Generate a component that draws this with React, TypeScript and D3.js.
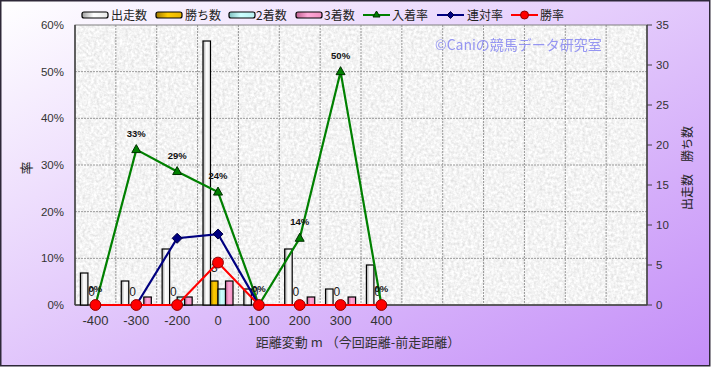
import React, { useEffect } from "react";
import * as d3 from "d3";

const categories = ["-400", "-300", "-200", "0", "100", "200", "300", "400"];
const extraSlots = ["", "", "", "", "", ""];
const runners = [4, 3, 7, 33, 2, 7, 2, 5];
const wins = [0, 0, 0, 3, 0, 0, 0, 0];
const seconds = [0, 0, 1, 2, 0, 0, 0, 0];
const thirds = [0, 1, 1, 3, 0, 1, 1, 0];
const placeRate = [0, 0.333, 0.286, 0.242, 0, 0.143, 0.5, 0];
const quinellaRate = [0, 0, 0.143, 0.152, 0, 0, 0, 0];
const winRate = [0, 0, 0, 0.091, 0, 0, 0, 0];
const leftTicks = [0, 0.1, 0.2, 0.3, 0.4, 0.5, 0.6];
const rightTicks = [0, 5, 10, 15, 20, 25, 30, 35];

const W = 711;
const H = 367;
const M = { left: 75, right: 647, top: 25, bottom: 305 };
const jp = "'Noto Sans CJK JP', 'Noto Sans', sans-serif";
const num = "'Liberation Sans', Arial, sans-serif";

export default function App() {
  useEffect(() => {
    document.body.style.margin = "0";
  }, []);
  const slots = [...categories, ...extraSlots];
  const x = d3.scaleBand<number>().domain(d3.range(slots.length)).range([M.left, M.right]).padding(0);
  const barSeries = [
    { key: "出走数", values: runners, fill: "url(#gRun)" },
    { key: "勝ち数", values: wins, fill: "url(#gWin)" },
    { key: "2着数", values: seconds, fill: "url(#gSec)" },
    { key: "3着数", values: thirds, fill: "url(#gThi)" },
  ];
  const xi = d3.scaleBand<number>().domain(d3.range(barSeries.length)).range([0, x.bandwidth()]).paddingInner(0).paddingOuter(0.72);
  const yL = d3.scaleLinear().domain([0, 0.6]).range([M.bottom, M.top]);
  const yR = d3.scaleLinear().domain([0, 35]).range([M.bottom, M.top]);
  const cx = (i: number) => (x(i) as number) + x.bandwidth() / 2;
  const line = d3.line<number>().x((_, i) => cx(i)).y((d) => yL(d));

  const lineSeries = [
    { key: "入着率", values: placeRate, color: "#008000", marker: "tri", mfill: "#008000", mstroke: "#003000" },
    { key: "連対率", values: quinellaRate, color: "#000080", marker: "dia", mfill: "#000080", mstroke: "#000040" },
    { key: "勝率", values: winRate, color: "#ff0000", marker: "cir", mfill: "#ff0000", mstroke: "#900000" },
  ];

  const marker = (type: string, px: number, py: number, fill: string, stroke: string, k: string) => {
    if (type === "tri")
      return <path key={k} d={`M${px},${py - 5}L${px + 4.5},${py + 3}L${px - 4.5},${py + 3}Z`} fill={fill} stroke={stroke} strokeWidth={1} />;
    if (type === "dia")
      return <path key={k} d={`M${px},${py - 5}L${px + 5},${py}L${px},${py + 5}L${px - 5},${py}Z`} fill={fill} stroke={stroke} strokeWidth={1} />;
    return <circle key={k} cx={px} cy={py} r={5.4} fill={fill} stroke={stroke} strokeWidth={1} />;
  };

  const legendBars = [
    { x: 82, tx: 111 },
    { x: 156, tx: 185 },
    { x: 229, tx: 256 },
    { x: 296, tx: 324 },
  ];
  const legendLines = [
    { x: 363, tx: 392 },
    { x: 437, tx: 467 },
    { x: 511, tx: 540 },
  ];

  return (
    <svg width={W} height={H} style={{ display: "block" }}>
      <defs>
        <linearGradient id="bg" x1="0" y1="0" x2="1" y2="1">
          <stop offset="0" stopColor="#ffffff" />
          <stop offset="1" stopColor="#c48ef8" />
        </linearGradient>
        <linearGradient id="gRun" x1="0" y1="0" x2="1" y2="0">
          <stop offset="0" stopColor="#a0a0a0" />
          <stop offset="0.45" stopColor="#ffffff" />
          <stop offset="1" stopColor="#e8e8e8" />
        </linearGradient>
        <linearGradient id="gWin" x1="0" y1="0" x2="1" y2="0">
          <stop offset="0" stopColor="#a07800" />
          <stop offset="0.45" stopColor="#ffcc00" />
          <stop offset="1" stopColor="#e8b400" />
        </linearGradient>
        <linearGradient id="gSec" x1="0" y1="0" x2="1" y2="0">
          <stop offset="0" stopColor="#80c0c0" />
          <stop offset="0.45" stopColor="#ccffff" />
          <stop offset="1" stopColor="#b8f0f0" />
        </linearGradient>
        <linearGradient id="gThi" x1="0" y1="0" x2="1" y2="0">
          <stop offset="0" stopColor="#c06090" />
          <stop offset="0.45" stopColor="#ffa8d8" />
          <stop offset="1" stopColor="#f090c0" />
        </linearGradient>
        <filter id="granite" x="0" y="0" width="100%" height="100%">
          <feTurbulence type="fractalNoise" baseFrequency="0.35" numOctaves="4" seed="3" result="n" />
          <feColorMatrix in="n" type="matrix" values="0.42 0 0 0 0.69  0.42 0 0 0 0.69  0.42 0 0 0 0.69  0 0 0 0 1" />
        </filter>
      </defs>
      <rect x={0.75} y={0.75} width={W - 2} height={H - 2} fill="url(#bg)" stroke="#2e2838" strokeWidth={1.5} />

      {/* plot area */}
      <rect x={M.left} y={M.top} width={M.right - M.left} height={M.bottom - M.top} filter="url(#granite)" />
      {leftTicks.slice(1, -1).map((t) => (
        <line key={"hg" + t} x1={M.left} x2={M.right} y1={yL(t)} y2={yL(t)} stroke="#999" strokeDasharray="2,1" strokeWidth={1} />
      ))}
      {slots.slice(1).map((_, i) => (
        <line key={"vg" + i} x1={x(i + 1) as number} x2={x(i + 1) as number} y1={M.top} y2={M.bottom} stroke="#999" strokeDasharray="2,1" strokeWidth={1} />
      ))}
      <rect x={M.left} y={M.top} width={M.right - M.left} height={M.bottom - M.top} fill="none" stroke="#808080" strokeWidth={1} />
      <line x1={M.left} x2={M.left} y1={M.top} y2={M.bottom} stroke="#404040" strokeWidth={1.5} />
      <line x1={M.right} x2={M.right} y1={M.top} y2={M.bottom} stroke="#404040" strokeWidth={1.5} />
      <line x1={M.left} x2={M.right} y1={M.bottom} y2={M.bottom} stroke="#404040" strokeWidth={1.5} />

      {/* watermark */}
      <text x={435} y={50} fontSize={14} fontFamily={jp} fill="#8c8cf2" opacity={0.9}>©Caniの競馬データ研究室</text>

      {/* bars */}
      {barSeries.map((s, si) =>
        s.values.map((v, i) =>
          v > 0 ? (
            <rect key={s.key + i} x={(x(i) as number) + (xi(si) as number)} y={yR(v)} width={xi.bandwidth()} height={M.bottom - yR(v)} fill={s.fill} stroke="#000" strokeWidth={1.2} />
          ) : null
        )
      )}
      {wins.map((v, i) => (
        <text key={"wl" + i} x={(x(i) as number) + (xi(1) as number) + xi.bandwidth() / 2} y={yR(v) - 9} fontSize={12} fontFamily={num} fill="#222" textAnchor="middle">{v}</text>
      ))}

      {/* lines */}
      {lineSeries.map((s) => (
        <g key={s.key}>
          <path d={line(s.values) as string} fill="none" stroke={s.color} strokeWidth={2.2} />
          {s.values.map((v, i) => marker(s.marker, cx(i), yL(v), s.mfill, s.mstroke, s.key + i))}
        </g>
      ))}
      {placeRate.map((v, i) => (
        <text key={"pl" + i} x={cx(i)} y={yL(v) - 13} fontSize={9.5} fontWeight="bold" fontFamily={num} fill="#111" textAnchor="middle">{Math.round(v * 100) + "%"}</text>
      ))}

      {/* axes labels */}
      {leftTicks.map((t) => (
        <text key={"lt" + t} x={64} y={yL(t) + 4} fontSize={11.5} fontFamily={num} fill="#333" textAnchor="end">{Math.round(t * 100) + "%"}</text>
      ))}
      {rightTicks.map((t) => (
        <g key={"rt" + t}>
          <line x1={M.right} x2={M.right + 5} y1={yR(t)} y2={yR(t)} stroke="#404040" />
          <text x={656} y={yR(t) + 4} fontSize={11.5} fontFamily={num} fill="#333">{t}</text>
        </g>
      ))}
      {slots.map((c, i) => (
        <text key={"xt" + i} x={cx(i)} y={325} fontSize={13} fontFamily={num} fill="#333" textAnchor="middle">{c}</text>
      ))}
      <text transform="translate(31,168) rotate(-90)" fontSize={13} fontFamily={jp} fill="#222" textAnchor="middle">率</text>
      <text transform="translate(692,168) rotate(-90)" fontSize={12} fontFamily={jp} fill="#222" textAnchor="middle">出走数　勝ち数</text>
      <text x={358} y={347} fontSize={13} fontFamily={jp} fill="#333" textAnchor="middle">距離変動 m （今回距離-前走距離）</text>

      {/* legend */}
      {barSeries.map((s, i) => (
        <g key={"lb" + i}>
          <rect x={legendBars[i].x} y={12} width={26} height={6} rx={2} fill={s.fill} stroke="#000" strokeWidth={1.2} />
          <text x={legendBars[i].tx} y={19.5} fontSize={12} fontFamily={jp} fill="#222">{s.key}</text>
        </g>
      ))}
      {lineSeries.map((s, i) => (
        <g key={"ll" + i}>
          <line x1={legendLines[i].x} x2={legendLines[i].x + 27} y1={15} y2={15} stroke={s.color} strokeWidth={2} />
          {s.marker === "tri"
            ? <path d={`M${legendLines[i].x + 13.5},${11}L${legendLines[i].x + 17},${17}L${legendLines[i].x + 10},${17}Z`} fill={s.mfill} stroke={s.mstroke} strokeWidth={1} />
            : s.marker === "dia"
            ? <path d={`M${legendLines[i].x + 13.5},${11.5}L${legendLines[i].x + 17},${15}L${legendLines[i].x + 13.5},${18.5}L${legendLines[i].x + 10},${15}Z`} fill={s.mfill} stroke={s.mstroke} strokeWidth={1} />
            : <circle cx={legendLines[i].x + 13.5} cy={15} r={4} fill={s.mfill} stroke={s.mstroke} strokeWidth={1} />}
          <text x={legendLines[i].tx} y={19.5} fontSize={12} fontFamily={jp} fill="#222">{s.key}</text>
        </g>
      ))}
    </svg>
  );
}
